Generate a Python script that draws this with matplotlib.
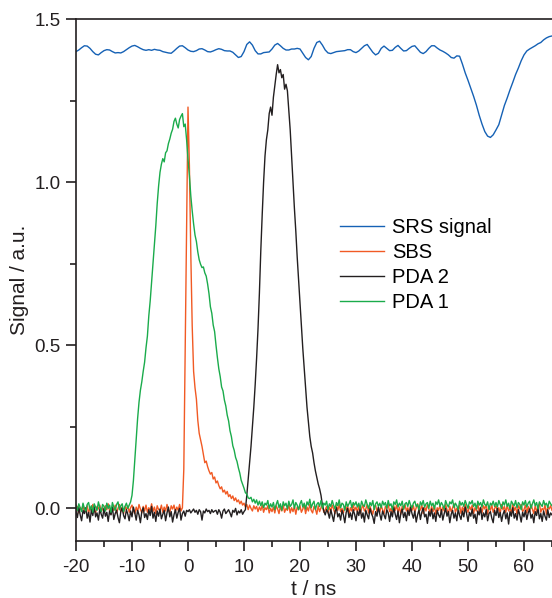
import numpy as np
import matplotlib
matplotlib.use("Agg")
import matplotlib.pyplot as plt
from matplotlib.ticker import MultipleLocator, FormatStrFormatter

# time base: -20 ns .. 65 ns
t_start, t_end = -20.0, 65.0

# SRS signal, 0.5 ns steps (each row = 5 ns)
srs_signal = [
    1.400, 1.405, 1.412, 1.418, 1.417, 1.410, 1.400, 1.392, 1.390, 1.397,   # -20
    1.403, 1.406, 1.405, 1.400, 1.396, 1.397, 1.396, 1.400, 1.406, 1.412,   # -15
    1.417, 1.419, 1.415, 1.410, 1.406, 1.404, 1.406, 1.404, 1.407, 1.405,   # -10
    1.404, 1.400, 1.398, 1.396, 1.395, 1.402, 1.410, 1.417, 1.418, 1.412,   # -5
    1.405, 1.401, 1.400, 1.403, 1.408, 1.409, 1.405, 1.400, 1.399, 1.402,   # 0
    1.406, 1.409, 1.407, 1.403, 1.402, 1.402, 1.398, 1.390, 1.382, 1.385,   # 5
    1.400, 1.422, 1.430, 1.420, 1.403, 1.393, 1.393, 1.397, 1.398, 1.399,   # 10
    1.408, 1.420, 1.425, 1.418, 1.410, 1.405, 1.405, 1.408, 1.408, 1.410,   # 15
    1.408, 1.395, 1.382, 1.375, 1.385, 1.410, 1.428, 1.432, 1.420, 1.405,   # 20
    1.396, 1.394, 1.397, 1.400, 1.401, 1.402, 1.403, 1.406, 1.406, 1.400,   # 25
    1.397, 1.402, 1.410, 1.418, 1.422, 1.410, 1.398, 1.390, 1.395, 1.410,   # 30
    1.417, 1.410, 1.403, 1.404, 1.413, 1.419, 1.410, 1.402, 1.403, 1.410,   # 35
    1.416, 1.418, 1.408, 1.398, 1.394, 1.400, 1.410, 1.418, 1.418, 1.411,   # 40
    1.405, 1.401, 1.396, 1.390, 1.382, 1.380, 1.387, 1.386, 1.362, 1.335,   # 45
    1.312, 1.288, 1.263, 1.236, 1.205, 1.178, 1.155, 1.141, 1.137, 1.145,   # 50
    1.160, 1.176, 1.205, 1.235, 1.258, 1.283, 1.306, 1.330, 1.350, 1.372,   # 55
    1.390, 1.402, 1.408, 1.413, 1.418, 1.424, 1.428, 1.436, 1.442, 1.446,   # 60
    1.448,                                                                  # 65
]

# SBS, 0.25 ns steps (each row = 5 ns)
sbs = [
    -0.008, 0.006, -0.014, 0.002, -0.004, 0.010, -0.012, -0.002, 0.008, -0.016, 0.004, -0.008, 0.012, -0.006, -0.014, 0.006, -0.002, 0.010, -0.010, 0.002,  # -20
    -0.012, 0.008, -0.004, 0.014, -0.008, -0.018, 0.004, -0.006, 0.010, -0.014, 0.000, 0.012, -0.010, 0.004, -0.016, 0.006, -0.004, 0.008, -0.012, 0.002,  # -15
    0.010, -0.006, -0.016, 0.004, -0.010, 0.012, -0.002, -0.014, 0.006, -0.008, 0.010, -0.012, 0.002, -0.006, 0.014, -0.010, 0.004, -0.016, 0.008, -0.004,  # -10
    -0.006, 0.010, -0.012, 0.004, -0.008, 0.012, -0.004, -0.014, 0.008, -0.002, 0.010, -0.010, 0.004, -0.006, 0.012, -0.008, 0.002, 0.120, 0.480, 0.860,   # -5
    1.230, 1.050, 0.780, 0.560, 0.420, 0.370, 0.335, 0.270, 0.230, 0.210, 0.190, 0.165, 0.140, 0.145, 0.128, 0.115, 0.105, 0.110, 0.090, 0.096,          # 0
    0.078, 0.084, 0.070, 0.060, 0.066, 0.050, 0.056, 0.044, 0.052, 0.036, 0.042, 0.030, 0.038, 0.024, 0.032, 0.020, 0.026, 0.014, 0.022, 0.010,          # 5
    0.016, 0.004, 0.012, -0.004, 0.010, 0.000, -0.008, 0.008, -0.002, 0.006, -0.010, 0.004, -0.006, 0.010, -0.012, 0.002, -0.004, 0.008, -0.014, 0.000,  # 10
    -0.010, 0.004, -0.014, 0.008, -0.002, -0.016, 0.006, -0.008, 0.010, -0.012, 0.000, -0.006, 0.012, -0.014, 0.002, -0.010, 0.006, -0.018, 0.004, -0.004,  # 15
    0.008, -0.012, -0.002, 0.010, -0.016, 0.004, -0.008, 0.012, -0.006, -0.014, 0.006, -0.002, -0.018, 0.008, -0.010, 0.002, 0.012, -0.012, -0.004, 0.006,  # 20
    -0.014, 0.004, -0.008, 0.010, -0.002, -0.016, 0.008, -0.006, 0.012, -0.010, 0.000, -0.014, 0.006, -0.004, 0.010, -0.018, 0.002, -0.008, 0.012, -0.006,  # 25
    0.004, -0.012, 0.008, -0.016, 0.000, 0.010, -0.008, -0.002, 0.012, -0.014, 0.006, -0.006, -0.018, 0.004, 0.010, -0.010, 0.002, -0.012, 0.008, -0.004,  # 30
    -0.016, 0.006, -0.002, 0.012, -0.010, 0.000, -0.014, 0.008, -0.006, 0.010, -0.012, 0.004, -0.018, 0.006, -0.004, 0.012, -0.008, 0.002, -0.014, 0.010,  # 35
    -0.006, 0.008, -0.012, 0.002, 0.014, -0.010, -0.004, 0.010, -0.016, 0.004, -0.008, 0.012, -0.002, -0.014, 0.006, -0.010, 0.008, -0.018, 0.002, -0.006,  # 40
    0.010, -0.014, 0.004, -0.008, 0.012, -0.004, -0.016, 0.006, -0.010, 0.002, 0.014, -0.012, 0.000, -0.006, 0.010, -0.016, 0.004, -0.008, 0.012, -0.002,  # 45
    -0.012, 0.006, -0.004, 0.010, -0.016, 0.002, -0.008, 0.014, -0.010, 0.004, -0.014, 0.008, -0.002, 0.012, -0.018, 0.006, -0.006, 0.010, -0.012, 0.000,  # 50
    0.008, -0.010, 0.002, -0.016, 0.012, -0.004, 0.006, -0.012, 0.010, -0.008, 0.000, -0.014, 0.014, -0.006, 0.004, -0.018, 0.008, -0.002, 0.012, -0.010,  # 55
    -0.004, 0.010, -0.014, 0.006, -0.008, 0.012, -0.002, -0.016, 0.008, -0.010, 0.004, 0.014, -0.012, 0.000, -0.006, 0.010, -0.018, 0.006, -0.002, 0.008,  # 60
    -0.006,                                                                                                                                                # 65
]

# PDA 2, 0.25 ns steps
pda2 = [
    -0.010, -0.028, 0.004, -0.020, -0.038, -0.006, -0.016, 0.002, -0.030, -0.012, -0.042, -0.004, -0.022, 0.006, -0.026, -0.014, -0.036, -0.002, -0.018, -0.030,  # -20
    0.000, -0.024, -0.012, -0.040, -0.008, -0.020, 0.004, -0.034, -0.016, -0.006, -0.028, -0.044, -0.010, 0.002, -0.022, -0.032, -0.004, -0.018, -0.038, -0.008,  # -15
    -0.026, 0.004, -0.014, -0.036, -0.006, -0.020, -0.044, -0.010, 0.002, -0.028, -0.016, -0.034, -0.004, -0.022, 0.006, -0.030, -0.012, -0.040, -0.008, -0.024,  # -10
    -0.002, -0.032, -0.018, -0.006, -0.038, -0.014, 0.004, -0.026, -0.010, -0.042, -0.020, -0.004, -0.030, -0.012, 0.000, -0.036, -0.016, -0.008, -0.024, -0.006,  # -5
    -0.010, -0.004, -0.014, -0.008, -0.002, -0.012, -0.006, -0.018, -0.004, -0.010, -0.036, -0.008, -0.014, -0.002, -0.010, -0.006, -0.016, -0.004, -0.012, -0.008,  # 0
    -0.006, -0.018, -0.004, -0.012, -0.030, -0.008, -0.002, -0.016, -0.010, -0.004, -0.014, -0.026, -0.006, -0.012, 0.000, -0.020, -0.008, -0.014, -0.004, -0.018,  # 5
    -0.010, -0.004, 0.040, 0.090, 0.140, 0.190, 0.250, 0.310, 0.380, 0.460, 0.550, 0.660, 0.790, 0.900, 1.000, 1.080, 1.130, 1.160, 1.210, 1.230,               # 10
    1.205, 1.260, 1.295, 1.330, 1.360, 1.335, 1.345, 1.320, 1.330, 1.285, 1.300, 1.280, 1.220, 1.160, 1.080, 1.000, 0.920, 0.850, 0.770, 0.700,               # 15
    0.630, 0.560, 0.490, 0.430, 0.370, 0.310, 0.265, 0.220, 0.190, 0.170, 0.140, 0.115, 0.095, 0.075, 0.060, 0.040, 0.010, -0.008, -0.020, -0.004,           # 20
    -0.012, -0.030, -0.004, -0.022, -0.040, -0.010, 0.002, -0.026, -0.016, -0.036, -0.006, -0.020, -0.044, -0.012, 0.000, -0.028, -0.014, -0.034, -0.004, -0.018,  # 25
    -0.038, -0.008, -0.022, 0.002, -0.030, -0.014, -0.042, -0.006, -0.020, -0.032, 0.000, -0.016, -0.026, -0.046, -0.010, -0.024, 0.004, -0.018, -0.036, -0.008,  # 30
    -0.020, -0.032, -0.004, -0.014, -0.040, -0.010, -0.026, 0.002, -0.018, -0.034, -0.008, -0.044, -0.016, -0.002, -0.028, -0.012, -0.038, -0.006, -0.022, 0.004,  # 35
    -0.016, -0.030, -0.008, -0.042, -0.020, -0.004, -0.034, -0.012, 0.002, -0.026, -0.018, -0.046, -0.010, -0.024, -0.002, -0.032, -0.014, -0.040, -0.006, -0.020,  # 40
    -0.028, -0.004, -0.036, -0.016, 0.000, -0.024, -0.010, -0.044, -0.018, -0.006, -0.030, -0.014, -0.038, -0.002, -0.022, -0.034, -0.008, -0.026, 0.004, -0.016,  # 45
    -0.040, -0.012, -0.024, -0.002, -0.030, -0.018, -0.046, -0.008, -0.020, 0.002, -0.034, -0.014, -0.026, -0.004, -0.038, -0.016, -0.010, -0.030, -0.044, -0.006,  # 50
    -0.022, 0.000, -0.028, -0.012, -0.040, -0.018, -0.006, -0.032, -0.014, -0.048, -0.010, -0.024, 0.002, -0.030, -0.016, -0.036, -0.004, -0.020, -0.042, -0.012,  # 55
    -0.026, -0.006, -0.034, -0.014, -0.002, -0.030, -0.018, -0.044, -0.010, -0.022, 0.002, -0.032, -0.016, -0.040, -0.008, -0.024, -0.036, -0.004, -0.028, -0.014,  # 60
    -0.020,                                                                                                                                                         # 65
]

# PDA 1, 0.25 ns steps
pda1 = [
    0.010, -0.006, 0.014, 0.002, -0.010, 0.016, 0.000, -0.008, 0.012, 0.018, -0.004, 0.008, -0.012, 0.014, 0.004, -0.006, 0.020, 0.002, -0.010, 0.012,  # -20
    0.006, -0.008, 0.016, 0.000, 0.010, -0.012, 0.018, 0.004, -0.006, 0.012, 0.020, -0.004, 0.008, 0.014, -0.010, 0.006, 0.016, 0.000, 0.010, 0.020,    # -15
    0.040, 0.085, 0.150, 0.215, 0.275, 0.325, 0.362, 0.388, 0.420, 0.448, 0.492, 0.528, 0.590, 0.636, 0.694, 0.748, 0.812, 0.866, 0.934, 0.988,           # -10
    1.030, 1.055, 1.072, 1.062, 1.090, 1.096, 1.118, 1.132, 1.150, 1.162, 1.186, 1.196, 1.178, 1.166, 1.192, 1.202, 1.210, 1.170, 1.178, 1.130,           # -5
    1.070, 1.020, 0.958, 0.912, 0.872, 0.838, 0.818, 0.786, 0.762, 0.748, 0.738, 0.740, 0.722, 0.712, 0.688, 0.658, 0.618, 0.598, 0.562, 0.542,           # 0
    0.500, 0.462, 0.428, 0.404, 0.372, 0.360, 0.332, 0.314, 0.286, 0.268, 0.238, 0.220, 0.192, 0.178, 0.156, 0.144, 0.124, 0.108, 0.086, 0.074,           # 5
    0.062, 0.048, 0.044, 0.032, 0.030, 0.034, 0.020, 0.028, 0.016, 0.026, 0.010, 0.022, 0.008, 0.020, 0.002, 0.016, 0.010, 0.024, 0.000, 0.014,           # 10
    0.004, 0.018, -0.004, 0.012, 0.024, 0.002, 0.014, -0.006, 0.020, 0.008, 0.016, -0.002, 0.022, 0.006, 0.012, 0.026, 0.000, 0.018, 0.010, -0.004,       # 15
    0.014, 0.024, 0.004, 0.016, -0.002, 0.020, 0.010, 0.028, 0.002, 0.014, 0.022, -0.004, 0.012, 0.018, 0.006, 0.024, 0.000, 0.016, 0.010, 0.022,         # 20
    -0.004, 0.014, 0.006, 0.024, 0.010, -0.002, 0.018, 0.008, 0.026, 0.002, 0.016, 0.012, -0.006, 0.020, 0.006, 0.014, 0.024, 0.002, 0.018, 0.010,        # 25
    0.020, 0.004, 0.016, -0.002, 0.022, 0.010, 0.006, 0.026, 0.012, 0.000, 0.018, 0.008, 0.024, -0.004, 0.014, 0.020, 0.006, 0.016, 0.002, 0.022,         # 30
    0.010, 0.018, 0.000, 0.024, 0.008, 0.014, -0.004, 0.020, 0.012, 0.026, 0.004, 0.016, 0.008, 0.022, -0.002, 0.014, 0.018, 0.006, 0.024, 0.010,         # 35
    0.002, 0.016, 0.022, 0.006, 0.012, -0.004, 0.020, 0.010, 0.024, 0.004, 0.014, 0.018, 0.000, 0.022, 0.008, 0.016, -0.002, 0.020, 0.012, 0.026,         # 40
    0.006, 0.018, 0.010, -0.002, 0.024, 0.012, 0.004, 0.020, 0.014, 0.026, 0.002, 0.016, 0.008, -0.004, 0.022, 0.010, 0.018, 0.006, 0.024, 0.012,         # 45
    0.000, 0.020, 0.014, 0.024, 0.006, 0.016, -0.002, 0.022, 0.010, 0.018, 0.004, 0.026, 0.012, 0.008, 0.020, -0.004, 0.016, 0.010, 0.022, 0.006,         # 50
    0.018, 0.004, 0.024, 0.012, 0.000, 0.020, 0.010, 0.026, 0.006, 0.016, -0.002, 0.022, 0.014, 0.008, 0.024, 0.002, 0.018, 0.012, -0.004, 0.020,         # 55
    0.010, 0.024, 0.004, 0.016, 0.022, 0.000, 0.014, 0.026, 0.008, 0.018, -0.002, 0.020, 0.012, 0.006, 0.024, 0.010, 0.016, 0.002, 0.022, 0.014,         # 60
    0.008,                                                                                                                                               # 65
]

labels = ["SRS signal", "SBS", "PDA 2", "PDA 1"]
colors = ["#1561b5", "#f15a24", "#231f20", "#1aab4b"]

plt.rcParams["font.family"] = ["Liberation Sans", "DejaVu Sans"]
plt.rcParams["axes.unicode_minus"] = False

fig = plt.figure(figsize=(5.52, 5.98), dpi=100)
ax = fig.add_axes([76 / 552, 57 / 598, 1 - 76 / 552, 522 / 598])

series = [srs_signal, sbs, pda2, pda1]
for vals, lab, col in zip(series, labels, colors):
    t = np.linspace(t_start, t_end, len(vals))
    ax.plot(t, vals, color=col, lw=1.0, label=lab)

ax.set_xlim(-20, 65)
ax.set_ylim(-0.1, 1.5)
ax.xaxis.set_major_locator(MultipleLocator(10))
ax.xaxis.set_minor_locator(MultipleLocator(5))
ax.yaxis.set_major_locator(MultipleLocator(0.5))
ax.yaxis.set_minor_locator(MultipleLocator(0.25))
ax.yaxis.set_major_formatter(FormatStrFormatter("%.1f"))

ax.spines["right"].set_visible(False)
for s in ["left", "bottom", "top"]:
    ax.spines[s].set_linewidth(1.2)
    ax.spines[s].set_color("#231f20")

ax.tick_params(which="major", direction="out", length=7, width=1.2, labelsize=13.5,
               colors="#231f20")
ax.tick_params(axis="x", which="major", pad=6)
ax.tick_params(axis="y", which="major", pad=4)
ax.tick_params(which="minor", direction="out", length=4, width=1.2, colors="#231f20")
ax.tick_params(top=False, right=False, which="both")

ax.set_xlabel("t / ns", fontsize=15, color="#231f20", labelpad=3)
ax.set_ylabel("Signal / a.u.", fontsize=15, color="#231f20", labelpad=4)

leg = ax.legend(loc="upper left", bbox_to_anchor=(0.5546, 0.619), frameon=False,
                fontsize=14.5, handlelength=2.2, handletextpad=0.4,
                labelspacing=0.3, borderpad=0, borderaxespad=0)
for line in leg.get_lines():
    line.set_linewidth(1.0)

fig.savefig("out.png", dpi=100)
